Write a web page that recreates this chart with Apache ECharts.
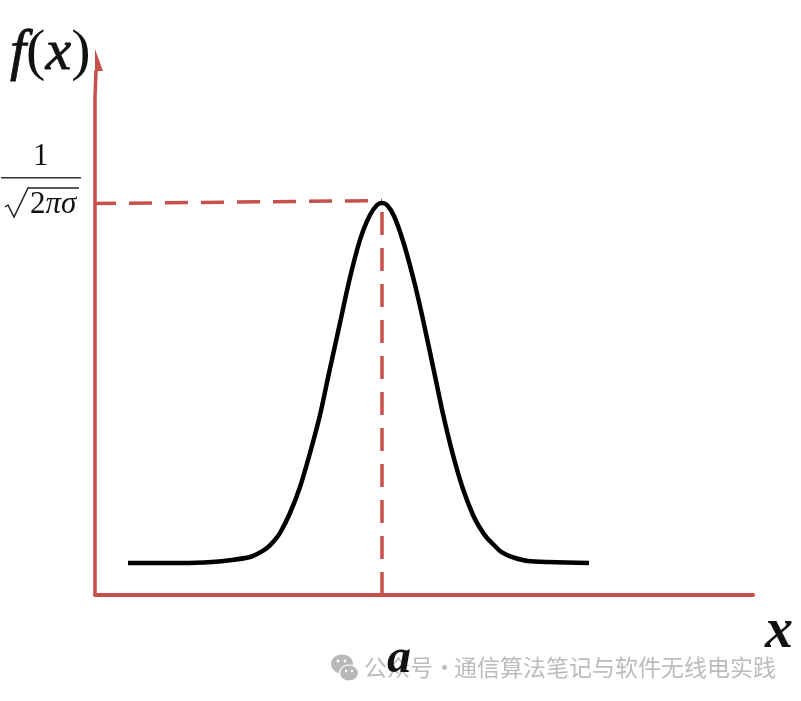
<!DOCTYPE html>
<html>
<head>
<meta charset="utf-8">
<title>f(x)</title>
<style>
  html, body { margin: 0; padding: 0; background: #fff; }
  #chart { width: 801px; height: 701px; }
</style>
<script src="https://cdn.jsdelivr.net/npm/echarts@6/dist/echarts.min.js"></script>
</head>
<body>
<div id="chart"></div>
<script>
// curve: offset from a, height above the x axis
var curveX = [-254, -200, -170, -150, -132, -123, -115, -108, -102, -92, -82, -72, -62, -53, -42, -34, -25, -19, -12, -5, 0, 5, 12, 21, 31, 40, 53, 61, 71, 81, 91, 98, 105, 112, 118, 125, 133, 146, 165, 207];
var curveY = [32, 32, 33, 35, 38, 42, 47, 54, 62, 82, 108, 142, 180, 222, 272, 309, 345, 364, 380, 390, 392, 390, 379, 354, 318, 280, 219, 181, 140, 106, 80, 67, 57, 50, 44, 40, 37, 34, 33, 32];
var peakLineX = [-287, 0];
var peakLineY = [391.5, 394.5];
var meanLineX = [0, 0];
var meanLineY = [0, 392];
var yAxisX = [-287, -287, -286, -286];
var yAxisY = [0, 498, 498, 525];
var arrowTip = [-287, 546];
var xTickValues = [0];
var xTickLabels = ['a'];
var xRange = [-287, 371];
var yRange = [0, 555];
var axisColor = '#c8504a';

var chart = echarts.init(document.getElementById('chart'), null, { renderer: 'canvas' });

function zip(a, b) {
  return a.map(function (v, i) { return [v, b[i]]; });
}

var mathFont = 'Liberation Serif';
var wmFont = 'Noto Sans CJK SC';
var wmColor = '#bcbcbc';

chart.setOption({
  animation: false,
  backgroundColor: '#fff',
  grid: { left: 95, right: 48, top: 40, bottom: 106 },
  xAxis: {
    type: 'value',
    min: xRange[0],
    max: xRange[1],
    splitLine: { show: false },
    axisTick: { show: false },
    axisLine: { lineStyle: { color: axisColor, width: 4 } },
    axisLabel: {
      customValues: xTickValues,
      formatter: function (v) { return xTickLabels[xTickValues.indexOf(v)]; },
      align: 'left',
      margin: 41,
      padding: [0, 0, 0, 5],
      color: '#111',
      fontFamily: mathFont,
      fontStyle: 'italic',
      fontWeight: 'bold',
      fontSize: 48
    },
    name: 'x',
    nameLocation: 'end',
    nameGap: 12,
    nameTextStyle: {
      color: '#111',
      fontFamily: mathFont,
      fontStyle: 'italic',
      fontWeight: 'bold',
      fontSize: 56,
      verticalAlign: 'top',
      padding: [10, 0, 0, 0]
    }
  },
  yAxis: {
    type: 'value',
    min: yRange[0],
    max: yRange[1],
    splitLine: { show: false },
    axisTick: { show: false },
    axisLabel: { show: false },
    axisLine: { show: false }
  },
  graphic: [
    {
      type: 'text', x: 10, y: 25,
      style: {
        text: '{i|f}{r|(}{i|x}{r|)}',
        rich: {
          i: { fontFamily: mathFont, fontStyle: 'italic', fontSize: 58, fill: '#111', stroke: '#111', lineWidth: 0.8 },
          r: { fontFamily: mathFont, fontSize: 58, fill: '#111' }
        }
      }
    },
    { type: 'text', x: 33, y: 141, style: { text: '1', fontFamily: mathFont, fontSize: 31, fill: '#111' } },
    { type: 'rect', shape: { x: 1, y: 177, width: 80, height: 1.6 }, style: { fill: '#333' } },
    { type: 'polyline', shape: { points: [[5, 207], [8, 205], [14, 217], [28, 188], [79, 188]] }, style: { stroke: '#222', lineWidth: 1.5, fill: null } },
    {
      type: 'text', x: 30, y: 189,
      style: {
        text: '{r|2}{i|πσ}',
        rich: {
          r: { fontFamily: mathFont, fontSize: 31, fill: '#111' },
          i: { fontFamily: mathFont, fontStyle: 'italic', fontSize: 31, fill: '#111' }
        }
      }
    },
    // watermark logo
    { type: 'ellipse', shape: { cx: 342, cy: 664, rx: 11, ry: 9.5 }, style: { fill: '#b8b8b8' } },
    { type: 'ellipse', shape: { cx: 349, cy: 673, rx: 9.5, ry: 8 }, style: { fill: '#b8b8b8', stroke: '#fff', lineWidth: 1.2 } },
    { type: 'circle', shape: { cx: 338, cy: 661, r: 1.4 }, style: { fill: '#fff' } },
    { type: 'circle', shape: { cx: 345, cy: 661, r: 1.4 }, style: { fill: '#fff' } },
    { type: 'circle', shape: { cx: 346, cy: 671, r: 1.2 }, style: { fill: '#fff' } },
    { type: 'circle', shape: { cx: 352, cy: 671, r: 1.2 }, style: { fill: '#fff' } },
    { type: 'text', x: 364, y: 656, style: { text: '公众号', fontFamily: wmFont, fontSize: 23, fill: wmColor } },
    { type: 'text', x: 433, y: 656, style: { text: '·', fontFamily: wmFont, fontSize: 23, fill: wmColor } },
    { type: 'text', x: 454, y: 656, style: { text: '通信算法笔记与软件无线电实践', fontFamily: wmFont, fontSize: 23, fill: wmColor } }
  ],
  series: [
    {
      name: 'y axis',
      type: 'line',
      data: zip(yAxisX, yAxisY),
      showSymbol: false,
      silent: true,
      lineStyle: { color: axisColor, width: 3.5 }
    },
    {
      name: 'arrow',
      type: 'scatter',
      data: [arrowTip],
      symbol: 'path://M0,0 L8,22 L0,22 Z',
      symbolSize: [8, 22],
      symbolOffset: [4, 11],
      silent: true,
      itemStyle: { color: axisColor, opacity: 1 }
    },
    {
      name: 'peak',
      type: 'line',
      data: zip(peakLineX, peakLineY),
      showSymbol: false,
      silent: true,
      lineStyle: { color: axisColor, width: 3.5, type: [23, 13], dashOffset: 2 }
    },
    {
      name: 'mean',
      type: 'line',
      data: zip(meanLineX, meanLineY),
      showSymbol: false,
      silent: true,
      lineStyle: { color: axisColor, width: 3.5, type: [23, 13] }
    },
    {
      name: 'f(x)',
      type: 'line',
      data: zip(curveX, curveY),
      smooth: 0.25,
      showSymbol: false,
      silent: true,
      lineStyle: { color: '#000', width: 4.5, join: 'round' }
    }
  ]
});
</script>
</body>
</html>
